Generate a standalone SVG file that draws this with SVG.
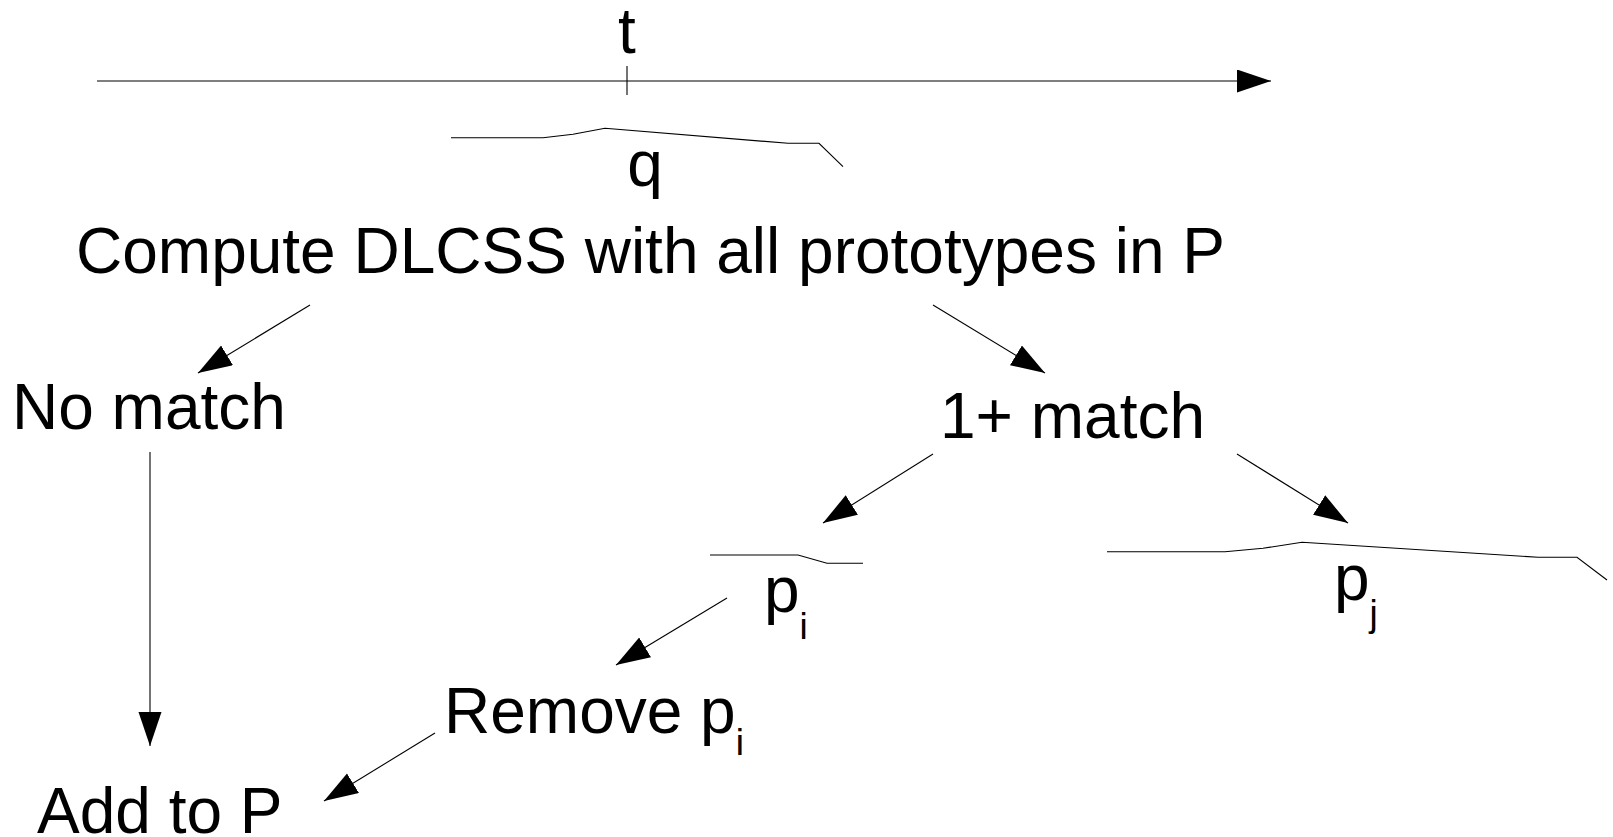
<svg xmlns="http://www.w3.org/2000/svg" width="1613" height="837" viewBox="0 0 1613 837">
<style>
text{font-family:"Liberation Sans",Arial,sans-serif;font-size:64px;fill:#000}
.sub{font-size:37px}
.ln{fill:none;stroke:#000;stroke-width:1.1}
.arr{fill:none;stroke:#000;stroke-width:1.1;marker-end:url(#ah)}
</style>
<defs>
<marker id="ah" markerUnits="userSpaceOnUse" markerWidth="36" markerHeight="25" refX="34" refY="11.5" orient="auto" viewBox="0 0 36 25">
<path d="M0,0 L34,11.5 L0,23 z" fill="#000"/>
</marker>
</defs>
<g id="axis">
<line class="arr" x1="97" y1="81" x2="1271" y2="81"/>
<line class="ln" x1="627" y1="66" x2="627" y2="95"/>
<text x="627" y="53" text-anchor="middle">t</text>
</g>
<g id="q">
<polyline class="ln" points="451,137.7 543,137.7 573,134.3 605,128.3 788,143.3 819,143.3 843,166.7"/>
<text x="645" y="186" text-anchor="middle">q</text>
</g>
<g id="compute">
<text x="76" y="273">Compute DLCSS with all prototypes in P</text>
</g>
<g id="nomatch">
<text x="12" y="429">No match</text>
</g>
<g id="onematch">
<text x="940" y="438">1+ match</text>
</g>
<g id="pi">
<polyline class="ln" points="710,555 798,555 827,563.3 863,563.3"/>
<text x="764" y="612">p<tspan class="sub" dy="27">i</tspan></text>
</g>
<g id="pj">
<polyline class="ln" points="1107,551.7 1225,551.7 1263,548.3 1302,542.3 1538,557.3 1577,557.3 1607,580"/>
<text x="1334" y="600">p<tspan class="sub" dy="26">j</tspan></text>
</g>
<g id="remove">
<text x="444" y="733">Remove p<tspan class="sub" dy="22">i</tspan></text>
</g>
<g id="addtop">
<text x="37" y="833">Add to P</text>
</g>
<g id="connectors">
<line class="arr" x1="310" y1="305" x2="198" y2="373"/>
<line class="arr" x1="933" y1="305" x2="1045" y2="373"/>
<line class="arr" x1="150" y1="452" x2="150" y2="746"/>
<line class="arr" x1="933" y1="454" x2="823" y2="523"/>
<line class="arr" x1="1237" y1="454" x2="1348" y2="523"/>
<line class="arr" x1="727" y1="598" x2="616" y2="665"/>
<line class="arr" x1="435" y1="733" x2="324" y2="801"/>
</g>
</svg>
